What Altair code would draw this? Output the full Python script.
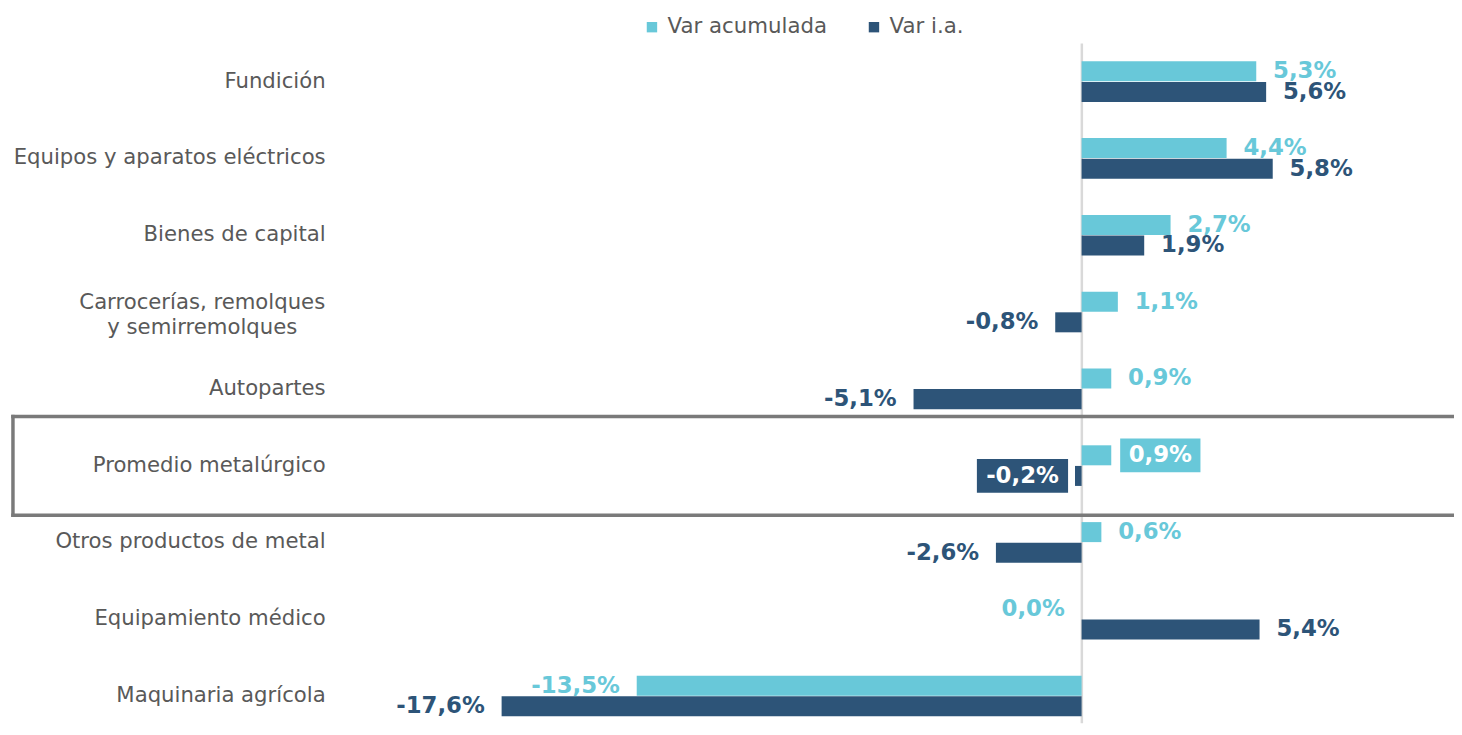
import altair as alt
import pandas as pd

categorias = [
    "Fundición",
    "Equipos y aparatos eléctricos",
    "Bienes de capital",
    "Carrocerías, remolques|y semirremolques",
    "Autopartes",
    "Promedio metalúrgico",
    "Otros productos de metal",
    "Equipamiento médico",
    "Maquinaria agrícola",
]
var_acumulada = [5.3, 4.4, 2.7, 1.1, 0.9, 0.9, 0.6, 0.0, -13.5]
var_ia = [5.6, 5.8, 1.9, -0.8, -5.1, -0.2, -2.6, 5.4, -17.6]
series = ["Var acumulada", "Var i.a."]
destacado = "Promedio metalúrgico"

LIGHT = "#68C8D9"
DARK = "#2D5478"
TXT = "#595959"
FRAME = "#7A7A7A"
FONT = "DejaVu Sans"


def fmt(v):
    return f"{v:.1f}".replace(".", ",") + "%"


rows = []
for c, a, b in zip(categorias, var_acumulada, var_ia):
    for s, v in zip(series, (a, b)):
        rows.append({"cat": c, "serie": s, "value": v, "label": fmt(v),
                     "dest": 1 if c == destacado else 0,
                     "multi": 1 if "|" in c else 0})
df = pd.DataFrame(rows)

xscale = alt.Scale(domain=[-21, 11], nice=False, zero=False)
xaxis = alt.Axis(values=[0], grid=True, gridColor="#D9D9D9", gridWidth=2.5,
                 labels=False, ticks=False, domain=False, title=None)
yscale = alt.Scale(paddingInner=0.471, paddingOuter=0.1615, align=0.74)
yaxis = alt.Axis(
    title=None, ticks=False, domain=False, labelPadding=65,
    labelFont=FONT, labelFontSize=21.4, labelColor=TXT, labelLimit=420,
    labelExpr="indexof(datum.label, '|') > 0 ? '' : datum.label",
)
Y = alt.Y("cat:N", sort=categorias, scale=yscale, axis=yaxis)
YOFF = alt.YOffset("serie:N", sort=series, scale=alt.Scale(paddingInner=0.03))
X = alt.X("value:Q", scale=xscale, axis=xaxis)

base = alt.Chart(df)
one = base.transform_filter("datum.dest == 1 && datum.serie == 'Var acumulada'")

# highlight frame around "Promedio metalúrgico" (open on the right, as it runs off the page)
rkw = dict(color=FRAME, strokeWidth=3.5, strokeCap="square")
frame_top = one.mark_rule(**rkw).encode(x=alt.value(-380), x2=alt.value(1100), y=alt.value(377))
frame_bot = one.mark_rule(**rkw).encode(x=alt.value(-380), x2=alt.value(1100), y=alt.value(476.5))
frame_left = one.mark_rule(**rkw).encode(x=alt.value(-380), y=alt.value(377), y2=alt.value(476.5))

bars = base.mark_bar().encode(
    x=X,
    y=Y, yOffset=YOFF,
    color=alt.Color(
        "serie:N", sort=series,
        scale=alt.Scale(domain=series, range=[LIGHT, DARK]),
        legend=alt.Legend(
            title=None, orient="none", legendX=254, legendY=-27,
            direction="horizontal", symbolType="square", symbolSize=110,
            symbolStrokeWidth=0, labelFont=FONT, labelFontSize=21.5,
            labelColor=TXT, labelOffset=5, columnPadding=36, padding=0,
            labelLimit=400,
        ),
    ),
)

# two-line category label, centred like the original
multi_lbl = base.transform_filter("datum.multi == 1 && datum.serie == 'Var acumulada'").mark_text(
    align="center", baseline="middle", lineBreak="|", lineHeight=25, dy=-9,
    font=FONT, fontSize=21.4, color=TXT
).encode(x=alt.value(-189), y=Y, text="cat:N")

txt_color = alt.condition("datum.serie == 'Var acumulada'", alt.value(LIGHT), alt.value(DARK))
tkw = dict(font=FONT, fontSize=23, fontWeight="bold", baseline="middle")

pos_txt = base.transform_filter("datum.dest == 0 && datum.value > 0").mark_text(
    align="left", dx=17, **tkw
).encode(x=X, y=Y, yOffset=YOFF, text="label:N", color=txt_color)

neg_txt = base.transform_filter("datum.dest == 0 && datum.value <= 0").mark_text(
    align="right", dx=-17, **tkw
).encode(x=X, y=Y, yOffset=YOFF, text="label:N", color=txt_color)

box_l = base.transform_filter("datum.dest == 1 && datum.serie == 'Var acumulada'").mark_bar(
    height=34, xOffset=9, x2Offset=90, color=LIGHT
).encode(x=X, x2="value:Q", y=Y, yOffset=YOFF)

box_d = base.transform_filter("datum.dest == 1 && datum.serie == 'Var i.a.'").mark_bar(
    height=34, xOffset=-99, x2Offset=-7, color=DARK
).encode(x=X, x2="value:Q", y=Y, yOffset=YOFF)

txt_l = base.transform_filter("datum.dest == 1 && datum.serie == 'Var acumulada'").mark_text(
    align="center", dx=49.5, color="white", **tkw
).encode(x=X, y=Y, yOffset=YOFF, text="label:N")

txt_d = base.transform_filter("datum.dest == 1 && datum.serie == 'Var i.a.'").mark_text(
    align="center", dx=-53, color="white", **tkw
).encode(x=X, y=Y, yOffset=YOFF, text="label:N")

chart = alt.layer(
    frame_top, frame_bot, frame_left, bars, multi_lbl, pos_txt, neg_txt,
    box_l, box_d, txt_l, txt_d
).properties(
    width=1064, height=686,
    autosize=alt.AutoSizeParams(type="none"),
    padding={"left": 385, "top": 32, "right": 10, "bottom": 0},
).configure_view(stroke=None)

chart.save("out.html", embed_options={"renderer": "svg", "actions": False})
